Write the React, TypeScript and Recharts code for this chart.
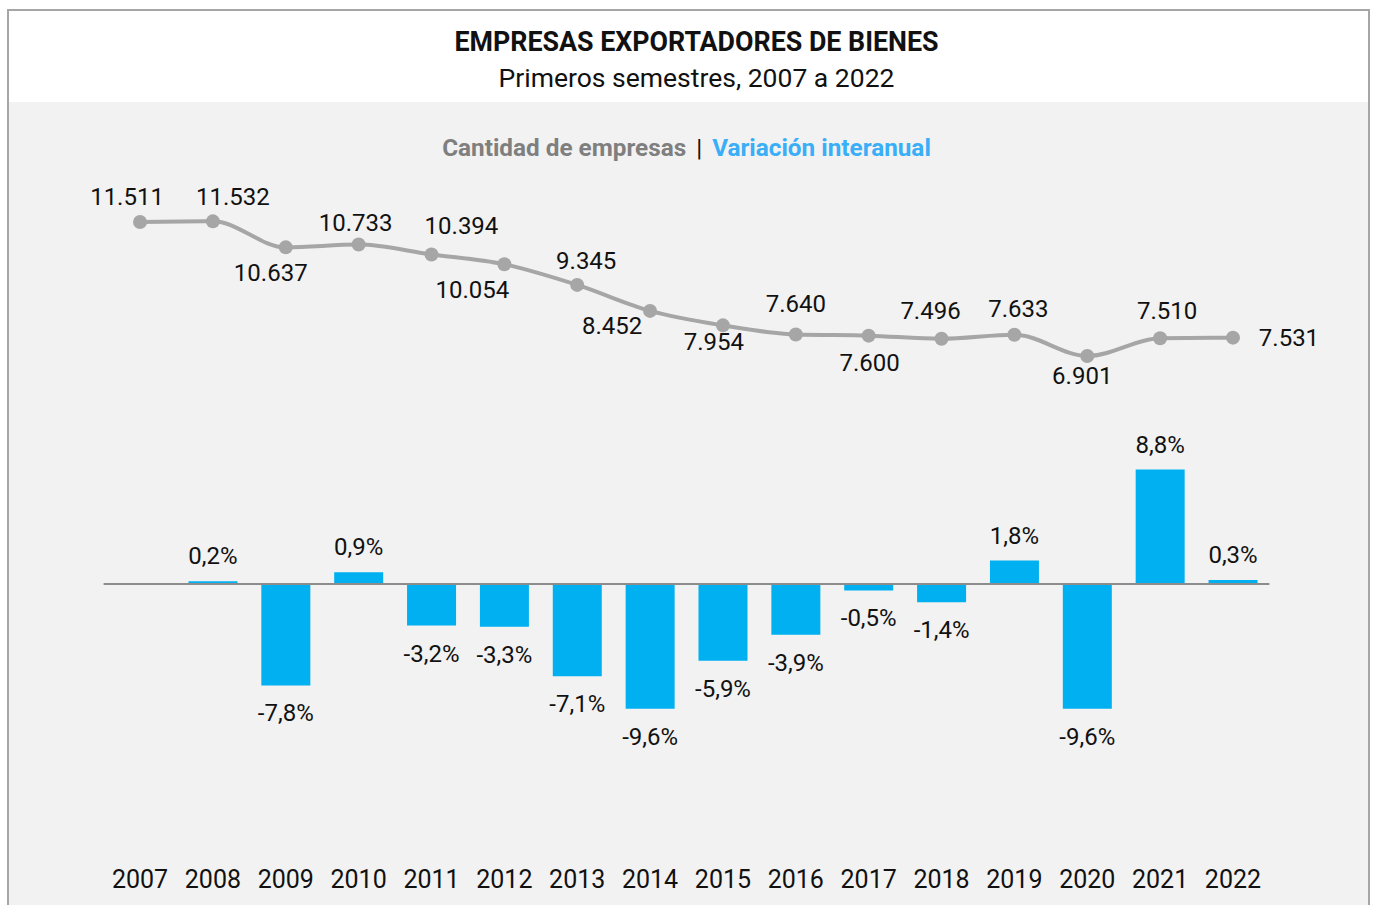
import React from 'react';
import { ComposedChart, Line, Bar, XAxis, YAxis, LabelList, ReferenceLine } from 'recharts';

const years = ['2007','2008','2009','2010','2011','2012','2013','2014','2015','2016','2017','2018','2019','2020','2021','2022'];
const empresas = [11511,11532,10637,10733,10394,10054,9345,8452,7954,7640,7600,7496,7633,6901,7510,7531];
const variacion = [null,0.2,-7.8,0.9,-3.2,-3.3,-7.1,-9.6,-5.9,-3.9,-0.5,-1.4,1.8,-9.6,8.8,0.3];

// label placement offsets (dx, dy) for line labels, relative to the point
const lineLabelDx = [-13,20,-15,-3,30,-32,9,-38,-9,0,1,-11,4,-5,7,56];
const lineLabelDy = [-25,-24,26,-22,-28,26,-24,15,17,-30,27,-28,-26,20,-27,0];

const data = years.map((y, i) => ({ year: y, empresas: empresas[i], variacion: variacion[i] }));

const FONT = 'Roboto, "Noto Sans", sans-serif';
const fmtThousands = (v: number) => String(v).replace(/\B(?=(\d{3})+(?!\d))/g, '.');
const fmtPct = (v: number) => v.toFixed(1).replace('.', ',') + '%';

const LineLabel = (props: any) => {
  const { x, y, value, index } = props;
  if (value == null) return null;
  return (
    <text x={x + lineLabelDx[index]} y={y + lineLabelDy[index]} textAnchor="middle" dominantBaseline="central"
      fontFamily={FONT} fontSize={24} fill="#111">
      {fmtThousands(value)}
    </text>
  );
};

const BarLabel = (props: any) => {
  const { x, y, width, height, value } = props;
  if (value == null) return null;
  const top = Math.min(y, y + height);
  const bottom = Math.max(y, y + height);
  const ly = value >= 0 ? top - 25 : bottom + 28;
  return (
    <text x={x + width / 2} y={ly} textAnchor="middle" dominantBaseline="central"
      fontFamily={FONT} fontSize={24} fill="#111">
      {fmtPct(value)}
    </text>
  );
};

const YearTick = (props: any) => {
  const { x, y, payload } = props;
  return (
    <text x={x} y={y} dy={24} textAnchor="middle" dominantBaseline="central" fontFamily={FONT} fontSize={25} fill="#111">
      {payload.value}
    </text>
  );
};

export default function App() {
  return (
    <div style={{ position: 'fixed', left: 7, top: 9, width: 1363, height: 910, border: '2px solid #a6a6a6', boxSizing: 'border-box', background: '#f2f2f2', fontFamily: FONT }}>
      <style>{'body{overflow:hidden}'}</style>
      <div style={{ position: 'absolute', left: 0, top: 0, width: '100%', height: 91, background: '#ffffff' }} />
      <div style={{ position: 'absolute', left: 8, top: 16, width: '100%', textAlign: 'center', fontWeight: 700, fontSize: 26.8, color: '#111', lineHeight: '30px' }}>
        EMPRESAS EXPORTADORES DE BIENES
      </div>
      <div style={{ position: 'absolute', left: 8, top: 52, width: '100%', textAlign: 'center', fontSize: 26.5, color: '#111', lineHeight: '30px' }}>
        Primeros semestres, 2007 a 2022
      </div>
      <div style={{ position: 'absolute', left: -2, top: 122, width: '100%', textAlign: 'center', fontWeight: 700, fontSize: 24.3, lineHeight: '30px' }}>
        <span style={{ color: '#7f7f7f' }}>Cantidad de empresas</span>
        <span style={{ color: '#111', fontWeight: 400, margin: '0 10px' }}>|</span>
        <span style={{ color: '#3aaef6' }}>Variación interanual</span>
      </div>
      <div style={{ position: 'absolute', left: 0, top: 91 }}>
        <ComposedChart width={1359} height={803} data={data}
          margin={{ top: 47.6, right: 98.6, bottom: 0, left: 94.6 }}>
          <XAxis dataKey="year" axisLine={false} tickLine={false} height={57.7} tick={<YearTick />} interval={0} />
          <YAxis yAxisId="line" hide domain={[-10000, 14000]} allowDataOverflow />
          <YAxis yAxisId="bar" hide domain={[-20.25, 33.4]} allowDataOverflow />
          <ReferenceLine yAxisId="bar" y={0} stroke="#8c8c8c" strokeWidth={2} />
          <Bar yAxisId="bar" dataKey="variacion" fill="#00b0f0" barSize={49} isAnimationActive={false}>
            <LabelList dataKey="variacion" content={<BarLabel />} />
          </Bar>
          <Line yAxisId="line" type="monotone" dataKey="empresas" stroke="#a6a6a6" strokeWidth={4}
            dot={{ r: 7, fill: '#a6a6a6', stroke: 'none' }} isAnimationActive={false}>
            <LabelList dataKey="empresas" content={<LineLabel />} />
          </Line>
        </ComposedChart>
      </div>
    </div>
  );
}
